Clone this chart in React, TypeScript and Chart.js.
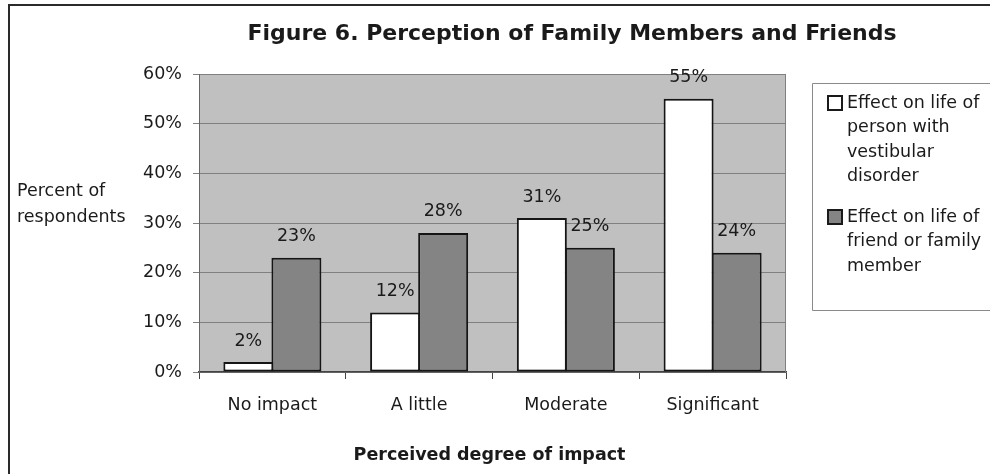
import { useEffect, useRef } from "react";
import { Chart, registerables } from "chart.js";

Chart.register(...registerables);

// Chart content
const categories = ["No impact", "A little", "Moderate", "Significant"];
const personValues = [2, 12, 31, 55];
const familyValues = [23, 28, 25, 24];
const personLegend = ["Effect on life of", "person with", "vestibular", "disorder"];
const familyLegend = ["Effect on life of", "friend or family", "member"];
const yMax = 60;
const yStep = 10;
const titleText = "Figure 6. Perception of Family Members and Friends";
const yTitleLines = ["Percent of", "respondents"];
const xTitleText = "Perceived degree of impact";

const FONT = "'DejaVu Sans', Verdana, sans-serif";
const TEXT = "#1a1a1a";

// Draws the page frame, plot background, titles, value labels and the legend box.
const decorPlugin = {
  id: "decor",
  beforeDraw(chart: any) {
    const { ctx, chartArea: a, width, height } = chart;
    ctx.save();
    ctx.fillStyle = "#ffffff";
    ctx.fillRect(0, 0, width, height);
    // frame (continues past the right and bottom edges)
    ctx.strokeStyle = "#2a2a2a";
    ctx.lineWidth = 2;
    ctx.beginPath();
    ctx.moveTo(9, height + 2);
    ctx.lineTo(9, 5);
    ctx.lineTo(width + 2, 5);
    ctx.stroke();
    // plot background
    ctx.fillStyle = "#c0c0c0";
    ctx.fillRect(a.left, a.top, a.right - a.left, a.bottom - a.top);
    ctx.restore();
  },
  beforeDatasetsDraw(chart: any) {
    const { ctx, chartArea: a } = chart;
    ctx.save();
    ctx.strokeStyle = "#808080";
    ctx.lineWidth = 1;
    ctx.beginPath();
    ctx.moveTo(a.right - 0.5, a.top);
    ctx.lineTo(a.right - 0.5, a.bottom);
    ctx.stroke();
    ctx.restore();
  },
  afterDatasetsDraw(chart: any) {
    const { ctx } = chart;
    ctx.save();
    ctx.fillStyle = TEXT;
    ctx.font = `17.5px ${FONT}`;
    ctx.textAlign = "center";
    ctx.textBaseline = "middle";
    chart.data.datasets.forEach((ds: any, di: number) => {
      const meta = chart.getDatasetMeta(di);
      meta.data.forEach((bar: any, i: number) => {
        ctx.fillText(`${ds.data[i]}%`, bar.x, bar.y - 21);
      });
    });
    ctx.restore();
  },
  afterDraw(chart: any) {
    const { ctx, chartArea: a, width } = chart;
    ctx.save();
    ctx.fillStyle = TEXT;
    ctx.textBaseline = "middle";

    // chart title
    ctx.font = `bold 22px ${FONT}`;
    ctx.textAlign = "center";
    ctx.fillText(titleText, 572, 34);

    // horizontal y-axis title
    ctx.font = `17.5px ${FONT}`;
    ctx.textAlign = "left";
    yTitleLines.forEach((line, i) => ctx.fillText(line, 17, 191 + i * 26));

    // x-axis title
    ctx.font = `bold 17.5px ${FONT}`;
    ctx.textAlign = "center";
    ctx.fillText(xTitleText, (a.left + a.right) / 2 - 3, 455);

    // legend box
    const boxLeft = 812.5;
    const boxTop = 83.5;
    const boxBottom = 310.5;
    ctx.strokeStyle = "#8a8a8a";
    ctx.lineWidth = 1;
    ctx.beginPath();
    ctx.moveTo(width + 2, boxTop);
    ctx.lineTo(boxLeft, boxTop);
    ctx.lineTo(boxLeft, boxBottom);
    ctx.lineTo(width + 2, boxBottom);
    ctx.stroke();

    const entries = [
      { lines: personLegend, ds: chart.data.datasets[0], y: 103 },
      { lines: familyLegend, ds: chart.data.datasets[1], y: 217 },
    ];
    ctx.font = `17.5px ${FONT}`;
    ctx.textAlign = "left";
    entries.forEach((e) => {
      ctx.fillStyle = e.ds.backgroundColor;
      ctx.fillRect(828, e.y - 7, 14, 14);
      ctx.strokeStyle = "#1a1a1a";
      ctx.lineWidth = 2;
      ctx.strokeRect(828, e.y - 7, 14, 14);
      ctx.fillStyle = TEXT;
      e.lines.forEach((line, i) => ctx.fillText(line, 847, e.y + i * 24.5));
    });
    ctx.restore();
  },
};

export default function App() {
  const canvasRef = useRef<HTMLCanvasElement | null>(null);

  useEffect(() => {
    const canvas = canvasRef.current;
    if (!canvas) return;
    const chart = new Chart(canvas, {
      type: "bar",
      data: {
        labels: categories,
        datasets: [
          {
            label: personLegend.join(" "),
            data: personValues,
            backgroundColor: "#ffffff",
            borderColor: "#151515",
            borderWidth: 2,
            borderSkipped: false,
            inflateAmount: 0,
          },
          {
            label: familyLegend.join(" "),
            data: familyValues,
            backgroundColor: "#848484",
            borderColor: "#151515",
            borderWidth: 2,
            borderSkipped: false,
            inflateAmount: 0,
          },
        ],
      },
      options: {
        responsive: false,
        animation: false,
        devicePixelRatio: 1,
        // bars in a group overlap by their border width so they share one edge
        datasets: { bar: { categoryPercentage: 0.655, barPercentage: 1.04 } },
        layout: { padding: { top: 74, right: 204, left: 0, bottom: 0 } },
        plugins: {
          legend: { display: false },
          title: { display: false },
          tooltip: { enabled: false },
        },
        scales: {
          x: {
            afterFit: (scale: any) => {
              scale.height = 102;
            },
            grid: {
              offset: true,
              drawOnChartArea: false,
              drawTicks: true,
              tickLength: 7,
              tickColor: "#444444",
            },
            border: { display: true, color: "#444444", width: 1.5 },
            ticks: {
              color: TEXT,
              font: { family: FONT, size: 17.5 },
              padding: 16,
              maxRotation: 0,
            },
          },
          y: {
            min: 0,
            max: yMax,
            afterFit: (scale: any) => {
              scale.width = 199;
            },
            grid: {
              color: "#808080",
              lineWidth: 1,
              tickLength: 6,
              tickColor: "#808080",
            },
            border: { display: true, color: "#666666", width: 1 },
            ticks: {
              stepSize: yStep,
              color: TEXT,
              font: { family: FONT, size: 17.5 },
              padding: 11,
              callback: (v: any) => `${v}%`,
            },
          },
        },
      },
      plugins: [decorPlugin],
    });
    return () => chart.destroy();
  }, []);

  return (
    <div style={{ position: "absolute", left: 0, top: 0, width: 990, height: 474, background: "#fff" }}>
      <canvas ref={canvasRef} width={990} height={474} style={{ display: "block", width: 990, height: 474 }} />
    </div>
  );
}
